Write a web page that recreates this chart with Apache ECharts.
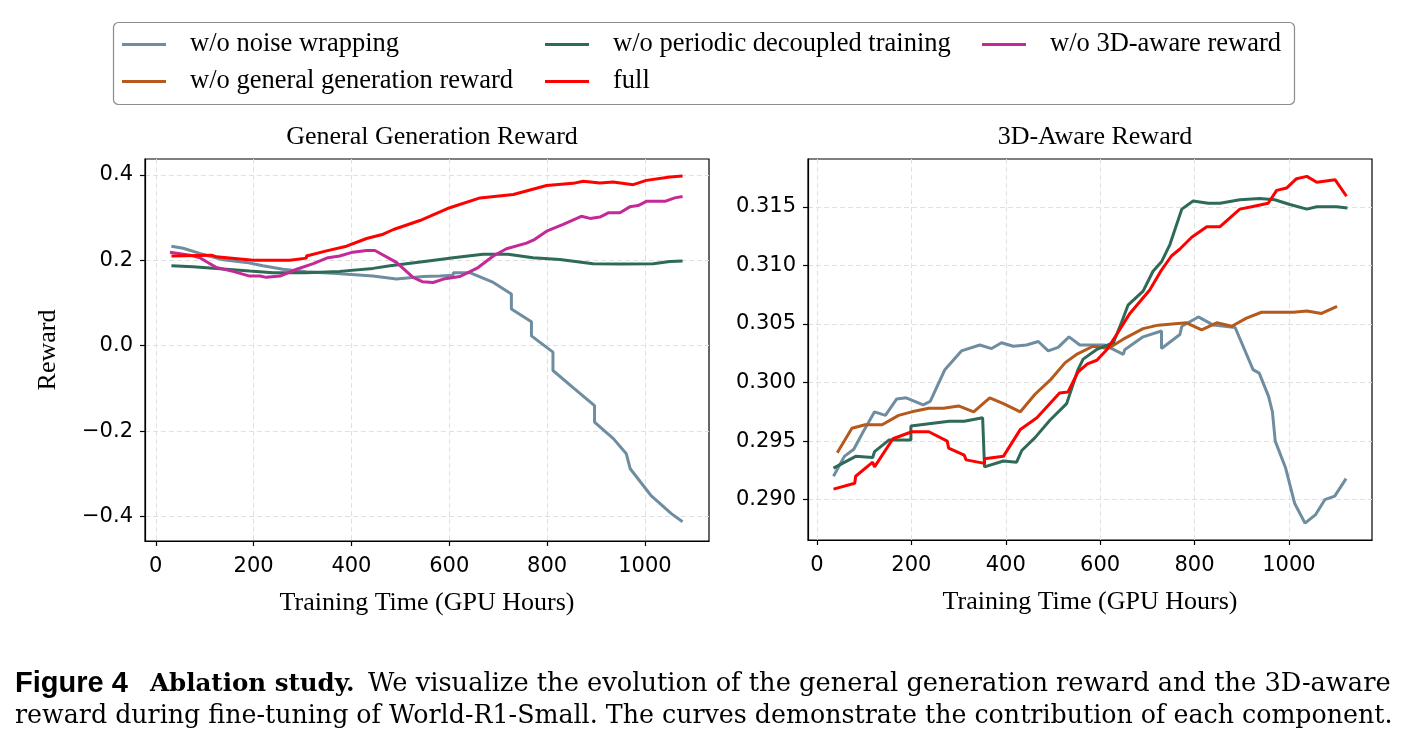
<!DOCTYPE html>
<html>
<head>
<meta charset="UTF-8">
<title>Ablation study</title>
<script src="https://cdn.jsdelivr.net/npm/echarts@6/dist/echarts.min.js"></script>
<style>
html,body{margin:0;padding:0;background:#fff;}
#charts{width:1409px;height:751px;}
</style>
</head>
<body>
<div id="charts"></div>
<script type="text/javascript">
// legend names
var seriesNames=['w/o noise wrapping','w/o general generation reward','w/o periodic decoupled training','full','w/o 3D-aware reward'];

// tick values
var genXTicks=[0,200,400,600,800,1000];
var genYTicks=[-0.4,-0.2,0.0,0.2,0.4];
var awareXTicks=[0,200,400,600,800,1000];
var awareYTicks=[0.290,0.295,0.300,0.305,0.310,0.315];

// General Generation Reward  [GPU hours, reward]
var genNoiseWrapping=[[32,0.233],[56,0.228],[90,0.216],[138,0.201],[185,0.195],[219,0.187],[260,0.179],[308,0.173],[370,0.169],[444,0.163],[492,0.156],[547,0.162],[581,0.163],[608,0.165],[608,0.171],[642,0.171],[690,0.148],[727,0.121],[727,0.086],[768,0.056],[768,0.023],[812,-0.015],[812,-0.058],[855,-0.100],[897,-0.140],[897,-0.179],[936,-0.218],[962,-0.253],[970,-0.288],[1012,-0.350],[1054,-0.393],[1077,-0.412]];
var genPeriodic=[[32,0.187],[76,0.185],[124,0.181],[192,0.175],[240,0.171],[308,0.171],[376,0.174],[444,0.181],[479,0.187],[533,0.195],[581,0.202],[608,0.206],[669,0.214],[720,0.214],[771,0.206],[826,0.202],[894,0.192],[949,0.191],[1017,0.192],[1051,0.197],[1077,0.198]];
var gen3DAware=[[29,0.219],[70,0.212],[90,0.206],[124,0.183],[158,0.174],[192,0.163],[213,0.163],[226,0.160],[254,0.163],[288,0.179],[322,0.192],[352,0.206],[376,0.210],[403,0.219],[431,0.223],[448,0.223],[492,0.195],[526,0.160],[545,0.150],[567,0.148],[588,0.156],[622,0.162],[659,0.183],[690,0.210],[717,0.227],[758,0.240],[775,0.249],[799,0.268],[833,0.284],[870,0.303],[888,0.298],[908,0.301],[925,0.311],[949,0.311],[969,0.325],[986,0.328],[1003,0.338],[1041,0.338],[1061,0.346],[1077,0.349]];
var genFull=[[32,0.210],[114,0.212],[124,0.208],[199,0.200],[274,0.200],[308,0.205],[308,0.210],[349,0.222],[390,0.233],[431,0.251],[465,0.261],[486,0.272],[540,0.293],[581,0.313],[601,0.323],[663,0.346],[731,0.354],[799,0.375],[853,0.380],[874,0.385],[908,0.381],[935,0.383],[976,0.377],[1003,0.387],[1051,0.395],[1077,0.397]];

// 3D-Aware Reward  [GPU hours, reward]
var awareNoiseWrapping=[[35,0.2920],[58,0.2937],[78,0.2943],[98,0.2958],[122,0.2975],[145,0.2972],[169,0.2986],[189,0.2987],[225,0.2981],[240,0.2984],[271,0.3011],[306,0.3027],[345,0.3032],[370,0.3029],[391,0.3034],[416,0.3031],[444,0.3032],[469,0.3035],[490,0.3027],[511,0.3030],[534,0.3039],[557,0.3032],[610,0.3032],[649,0.3024],[652,0.3028],[691,0.3039],[730,0.3044],[730,0.3029],[769,0.3041],[773,0.3048],[808,0.3056],[840,0.3049],[886,0.3047],[924,0.3011],[937,0.3008],[957,0.2988],[965,0.2975],[971,0.2950],[993,0.2927],[1012,0.2897],[1034,0.2880],[1056,0.2887],[1076,0.2900],[1097,0.2903],[1121,0.2918]];
var awareGeneral=[[43,0.2940],[74,0.2961],[102,0.2964],[138,0.2964],[173,0.2972],[201,0.2975],[237,0.2978],[268,0.2978],[300,0.2980],[332,0.2975],[366,0.2987],[395,0.2982],[431,0.2975],[462,0.2990],[494,0.3002],[526,0.3017],[550,0.3024],[585,0.3031],[617,0.3029],[649,0.3037],[691,0.3046],[723,0.3049],[783,0.3051],[815,0.3045],[847,0.3051],[879,0.3048],[910,0.3055],[942,0.3060],[981,0.3060],[1009,0.3060],[1038,0.3061],[1069,0.3059],[1102,0.3065]];
var awarePeriodic=[[35,0.2927],[82,0.2937],[118,0.2936],[122,0.2941],[153,0.2951],[199,0.2951],[199,0.2963],[280,0.2967],[312,0.2967],[351,0.2970],[355,0.2928],[395,0.2933],[423,0.2932],[434,0.2942],[462,0.2953],[494,0.2968],[529,0.2982],[553,0.3011],[564,0.3020],[592,0.3028],[628,0.3034],[645,0.3051],[659,0.3066],[691,0.3078],[712,0.3095],[730,0.3103],[748,0.3118],[773,0.3148],[797,0.3155],[829,0.3153],[854,0.3153],[896,0.3156],[938,0.3157],[970,0.3156],[1002,0.3152],[1038,0.3148],[1059,0.3150],[1101,0.3150],[1124,0.3149]];
var awareFull=[[35,0.2909],[80,0.2914],[82,0.2920],[118,0.2932],[122,0.2928],[161,0.2952],[201,0.2958],[237,0.2958],[276,0.2950],[279,0.2944],[312,0.2938],[316,0.2934],[355,0.2931],[355,0.2935],[395,0.2937],[431,0.2960],[466,0.2970],[514,0.2991],[532,0.2992],[553,0.3009],[573,0.3016],[593,0.3019],[614,0.3028],[635,0.3041],[663,0.3059],[705,0.3079],[730,0.3096],[751,0.3108],[769,0.3114],[794,0.3124],[826,0.3133],[854,0.3133],[896,0.3148],[921,0.3150],[956,0.3153],[974,0.3164],[995,0.3166],[1016,0.3174],[1038,0.3176],[1059,0.3171],[1098,0.3173],[1122,0.3159]];

var colors={
	'w/o noise wrapping':'#6f8da1',
	'w/o general generation reward':'#b5591d',
	'w/o periodic decoupled training':'#2e6a58',
	'full':'#ff0000',
	'w/o 3D-aware reward':'#c42a97'
};

var serif='"Liberation Serif", "Times New Roman", serif';
var sans='"DejaVu Sans", sans-serif';
var capSerif='"DejaVu Serif", serif';

function line(name,data,idx,z){
	return {
		name:name,
		type:'line',
		xAxisIndex:idx,
		yAxisIndex:idx,
		data:data,
		showSymbol:false,
		symbol:'none',
		z:z,
		lineStyle:{width:3,color:colors[name]},
		itemStyle:{color:colors[name]}
	};
}

function xAxisOf(idx,min,max,ticks){
	return {
		type:'value',gridIndex:idx,min:min,max:max,
		name:'Training Time (GPU Hours)',nameLocation:'middle',nameGap:49,
		nameTextStyle:{fontFamily:serif,fontSize:26,color:'#000'},
		axisLine:{onZero:false,lineStyle:{color:'#000',width:1.2}},
		axisTick:{customValues:ticks,length:5,lineStyle:{color:'#000',width:1.2}},
		axisLabel:{customValues:ticks,fontFamily:sans,fontSize:21,color:'#000',margin:15,
			formatter:function(v){return String(v);}},
		splitLine:{show:true,lineStyle:{color:'#e0e0e0',type:[5,3],width:1}}
	};
}

function yAxisOf(idx,min,max,ticks,fmt,name){
	return {
		type:'value',gridIndex:idx,min:min,max:max,
		name:name,nameLocation:'middle',nameGap:84,
		nameTextStyle:{fontFamily:serif,fontSize:26,color:'#000'},
		axisLine:{show:true,onZero:false,lineStyle:{color:'#000',width:1.2}},
		axisTick:{show:true,customValues:ticks,length:5,lineStyle:{color:'#000',width:1.2}},
		axisLabel:{customValues:ticks,fontFamily:sans,fontSize:21,color:'#000',margin:12,formatter:fmt},
		splitLine:{show:true,lineStyle:{color:'#e0e0e0',type:[5,3],width:1}}
	};
}

function legendAt(name,left,top){
	return {
		data:[name],left:left,top:top,
		icon:'rect',itemWidth:44,itemHeight:3,
		padding:0,
		textStyle:{fontFamily:serif,fontSize:26.5,color:'#000',padding:[0,0,0,19]},
		selectedMode:false
	};
}

var mychart=echarts.init(document.getElementById('charts'),null,{renderer:'canvas'});
var option={
	animation:false,
	backgroundColor:'#fff',
	title:[
		{text:'General Generation Reward',left:427,top:119,textAlign:'center',
			textStyle:{fontFamily:serif,fontSize:26,fontWeight:'normal',color:'#000'}},
		{text:'3D-Aware Reward',left:1090,top:119,textAlign:'center',
			textStyle:{fontFamily:serif,fontSize:26,fontWeight:'normal',color:'#000'}}
	],
	legend:[
		legendAt(seriesNames[0],122,31),
		legendAt(seriesNames[1],122,68),
		legendAt(seriesNames[2],545,31),
		legendAt(seriesNames[3],545,68),
		legendAt(seriesNames[4],982,31)
	],
	grid:[
		{left:145,top:159,width:564,height:382,show:true,borderColor:'#000',borderWidth:1.2,backgroundColor:'transparent'},
		{left:808,top:159,width:564,height:381,show:true,borderColor:'#000',borderWidth:1.2,backgroundColor:'transparent'}
	],
	xAxis:[
		xAxisOf(0,-22,1131,genXTicks),
		xAxisOf(1,-19,1176,awareXTicks)
	],
	yAxis:[
		yAxisOf(0,-0.457,0.437,genYTicks,function(v){
			var s=Math.abs(v).toFixed(1);
			return v<-1e-9?'\u2212'+s:s;
		},'Reward'),
		yAxisOf(1,0.28656,0.31908,awareYTicks,function(v){return v.toFixed(3);},'')
	],
	series:[
		line(seriesNames[0],genNoiseWrapping,0,2),
		line(seriesNames[2],genPeriodic,0,3),
		line(seriesNames[4],gen3DAware,0,4),
		line(seriesNames[3],genFull,0,5),
		line(seriesNames[0],awareNoiseWrapping,1,2),
		line(seriesNames[1],awareGeneral,1,3),
		line(seriesNames[2],awarePeriodic,1,4),
		line(seriesNames[3],awareFull,1,5)
	],
	graphic:[
		{type:'rect',shape:{x:113.5,y:22.5,width:1181,height:82,r:5},
			style:{fill:'#fff',stroke:'#8c8c8c',lineWidth:1.2},z:-1,silent:true},
		// caption, first line in three pieces
		{type:'text',left:15,top:669,silent:true,
			style:{text:'Figure 4',fontFamily:'"Liberation Sans", Arial, sans-serif',fontWeight:'bold',fontSize:29,fill:'#000'}},
		{type:'text',left:150,top:672,silent:true,
			style:{text:'Ablation study.',fontFamily:capSerif,fontWeight:'bold',fontSize:24.5,fill:'#000'}},
		{type:'text',left:368,top:671,silent:true,
			style:{text:'We visualize the evolution of the general generation reward and the 3D-aware',fontFamily:capSerif,fontSize:25.7,fill:'#000'}},
		{type:'text',left:15,top:704,silent:true,
			style:{text:'reward during fine-tuning of World-R1-Small. The curves demonstrate the contribution of each component.',
				fontFamily:capSerif,fontSize:25.3,fill:'#000'}}
	]
};
mychart.setOption(option);
</script>
</body>
</html>
